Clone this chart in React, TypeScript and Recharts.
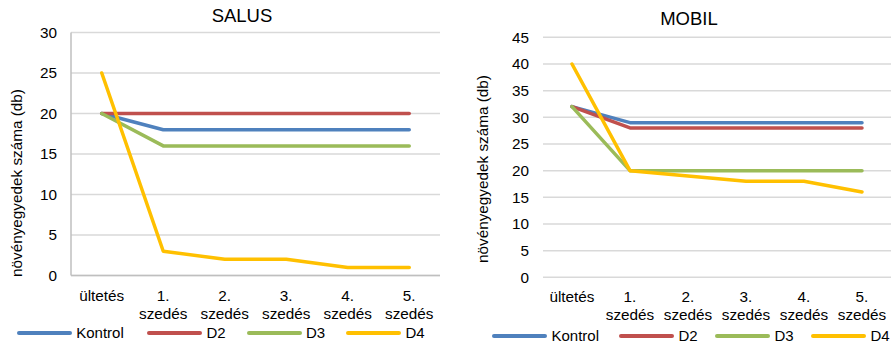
import { CartesianGrid, Line, LineChart, XAxis, YAxis } from "recharts";

// Two line charts side by side: plant counts per harvest, SALUS vs MOBIL.

const categories = ["ültetés", "1. szedés", "2. szedés", "3. szedés", "4. szedés", "5. szedés"];
const seriesNames = ["Kontrol", "D2", "D3", "D4"];
const seriesColors = ["#4F81BD", "#C0504D", "#9BBB59", "#FFC000"];

const salusKontrol = [20, 18, 18, 18, 18, 18];
const salusD2 = [20, 20, 20, 20, 20, 20];
const salusD3 = [20, 16, 16, 16, 16, 16];
const salusD4 = [25, 3, 2, 2, 1, 1];
const salusTicks = [0, 5, 10, 15, 20, 25, 30];

const mobilKontrol = [32, 29, 29, 29, 29, 29];
const mobilD2 = [32, 28, 28, 28, 28, 28];
const mobilD3 = [32, 20, 20, 20, 20, 20];
const mobilD4 = [40, 20, 19, 18, 18, 16];
const mobilTicks = [0, 5, 10, 15, 20, 25, 30, 35, 40, 45];

const yLabel = "növényegyedek száma (db)";
const FONT = "'Liberation Sans', Arial, sans-serif";

function buildRows(series: number[][]) {
  return categories.map((c, i) => {
    const row: Record<string, string | number> = { cat: c };
    seriesNames.forEach((n, k) => (row[n] = series[k][i]));
    return row;
  });
}

function CatTick(props: any) {
  const { x, y, payload, top } = props;
  const parts = String(payload.value).split(" ");
  return (
    <text x={x} y={y + top} textAnchor="middle" fill="#000" fontSize={15.3} fontFamily={FONT}>
      {parts.map((p, i) => (
        <tspan key={i} x={x} dy={i === 0 ? 0 : 18.5}>
          {p}
        </tspan>
      ))}
    </text>
  );
}

// legend entries placed where Excel put them
function Legend({ xs, top, lineW }: { xs: number[]; top: number; lineW: number }) {
  return (
    <>
      {seriesNames.map((n, i) => (
        <div
          key={n}
          style={{
            position: "absolute",
            left: xs[i],
            top,
            display: "flex",
            alignItems: "center",
            fontFamily: FONT,
            fontSize: 15,
            lineHeight: "16px",
            whiteSpace: "nowrap",
          }}
        >
          <div style={{ width: lineW, height: 4, borderRadius: 2, background: seriesColors[i], marginRight: 4.5 }} />
          <span>{n}</span>
        </div>
      ))}
    </>
  );
}

type PanelProps = {
  x: number;
  title: string;
  titleX: number;
  titleY: number;
  labelX: number;
  labelY: number;
  series: number[][];
  ticks: number[];
  yWidth: number;
  mTop: number;
  mRight: number;
  bottomOff: number;
  axisLine: boolean;
  tickTop: number;
};

function Panel(p: PanelProps) {
  const data = buildRows(p.series);
  const max = p.ticks[p.ticks.length - 1];
  // half a category band on each side, like Excel's "between tick marks"
  const halfBand = (445 - p.yWidth - p.mRight) / categories.length / 2;
  return (
    <div style={{ position: "absolute", left: p.x, top: 0, width: 445, height: 349 }}>
      <div
        style={{
          position: "absolute",
          left: p.titleX - 100,
          top: p.titleY - 11,
          width: 200,
          textAlign: "center",
          fontFamily: FONT,
          fontSize: 18.5,
          lineHeight: "22px",
        }}
      >
        {p.title}
      </div>
      <div
        style={{
          position: "absolute",
          left: p.labelX - 150,
          top: p.labelY - 10,
          width: 300,
          height: 20,
          lineHeight: "20px",
          textAlign: "center",
          transform: "rotate(-90deg)",
          fontFamily: FONT,
          fontSize: 15.3,
          whiteSpace: "nowrap",
        }}
      >
        {yLabel}
      </div>
      <LineChart
        width={445}
        height={349}
        data={data}
        margin={{ top: p.mTop, right: p.mRight, left: 0, bottom: p.bottomOff - 50 }}
        style={{ overflow: "visible" }}
      >
        <CartesianGrid vertical={false} stroke="#D9D9D9" strokeWidth={1.5} />
        <XAxis
          dataKey="cat"
          height={50}
          interval={0}
          tickSize={0}
          tickMargin={0}
          padding={{ left: halfBand, right: halfBand }}
          axisLine={p.axisLine ? { stroke: "#BFBFBF", strokeWidth: 1.5 } : false}
          tickLine={false}
          tick={<CatTick top={p.tickTop} />}
        />
        <YAxis
          width={p.yWidth}
          domain={[0, max]}
          ticks={p.ticks}
          interval={0}
          tickSize={0}
          tickMargin={14}
          axisLine={p.axisLine ? { stroke: "#BFBFBF", strokeWidth: 1.5 } : false}
          tickLine={false}
          tick={{ fill: "#000", fontSize: 15.3, fontFamily: FONT }}
        />
        {seriesNames.map((n, i) => (
          <Line
            key={n}
            type="linear"
            dataKey={n}
            stroke={seriesColors[i]}
            strokeWidth={3.5}
            strokeLinejoin="round"
            strokeLinecap="round"
            dot={false}
            activeDot={false}
            isAnimationActive={false}
          />
        ))}
      </LineChart>
    </div>
  );
}

export default function App() {
  return (
    <div style={{ position: "absolute", left: 0, top: 0, width: 891, height: 349, background: "#fff", overflow: "hidden" }}>
      <Panel
        x={0}
        title="SALUS"
        titleX={242}
        titleY={16}
        labelX={17}
        labelY={183}
        series={[salusKontrol, salusD2, salusD3, salusD4]}
        ticks={salusTicks}
        yWidth={71}
        mTop={32.5}
        mRight={5}
        bottomOff={73.5}
        axisLine={true}
        tickTop={25}
      />
      <Panel
        x={446}
        title="MOBIL"
        titleX={243}
        titleY={18.5}
        labelX={37}
        labelY={169}
        series={[mobilKontrol, mobilD2, mobilD3, mobilD4]}
        ticks={mobilTicks}
        yWidth={97}
        mTop={37.3}
        mRight={0}
        bottomOff={71.7}
        axisLine={false}
        tickTop={24.5}
      />
      <Legend xs={[16.7, 147, 246.5, 346]} top={325} lineW={55} />
      <Legend xs={[492, 619, 715, 811]} top={328} lineW={55} />
    </div>
  );
}
